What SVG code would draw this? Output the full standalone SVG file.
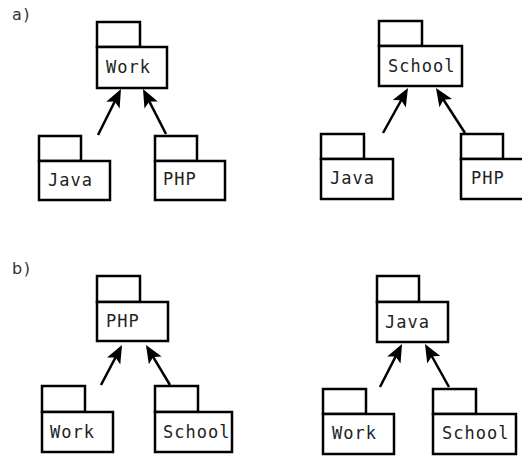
<svg xmlns="http://www.w3.org/2000/svg" width="522" height="456" viewBox="0 0 522 456">
  <style>
    .pk { fill: #fff; stroke: #000; stroke-width: 2.5; }
    .nm { font-family: "DejaVu Sans Mono", "Liberation Mono", monospace; font-size: 17px; letter-spacing: 1px; fill: #222; }
    .lbl { font-family: "DejaVu Sans", "Liberation Sans", sans-serif; font-size: 16px; letter-spacing: 1.5px; fill: #333; }
    .dep { fill: none; stroke: #000; stroke-width: 2.5; marker-end: url(#head); }
  </style>
  <defs>
    <!-- barbed dependency arrowhead, tip 8px past the path end -->
    <marker id="head" markerUnits="userSpaceOnUse" markerWidth="22" markerHeight="18" viewBox="-11 -9 22 18" refX="0" refY="0" orient="auto" overflow="visible">
      <path d="M-10,-7.5 L8,0 L-10,7.5 L-6,0 z" fill="#000"/>
    </marker>
  </defs>

  <text class="lbl" x="12" y="20">a)</text>
  <text class="lbl" x="12" y="274">b)</text>

  <!-- a) left: Java and PHP depend on Work -->
  <g id="a-work">
    <rect class="pk" x="97" y="22" width="43" height="25"/>
    <rect class="pk" x="97" y="47" width="70" height="41"/>
    <text class="nm" x="106" y="73">Work</text>
  </g>
  <g id="a-java1">
    <rect class="pk" x="39" y="136" width="42" height="25"/>
    <rect class="pk" x="39" y="161" width="71" height="39"/>
    <text class="nm" x="48" y="186">Java</text>
  </g>
  <g id="a-php1">
    <rect class="pk" x="155" y="136" width="42" height="25"/>
    <rect class="pk" x="155" y="161" width="70" height="39"/>
    <text class="nm" x="163" y="185">PHP</text>
  </g>

  <!-- a) right: Java and PHP depend on School -->
  <g id="a-school">
    <rect class="pk" x="379" y="21" width="43" height="25"/>
    <rect class="pk" x="379" y="46" width="83" height="40"/>
    <text class="nm" x="388" y="72">School</text>
  </g>
  <g id="a-java2">
    <rect class="pk" x="321" y="134" width="43" height="25"/>
    <rect class="pk" x="321" y="159" width="72" height="40"/>
    <text class="nm" x="330" y="184">Java</text>
  </g>
  <g id="a-php2">
    <rect class="pk" x="461" y="134" width="42" height="25"/>
    <rect class="pk" x="461" y="159" width="70" height="40"/>
    <text class="nm" x="471" y="184">PHP</text>
  </g>

  <!-- b) left: Work and School depend on PHP -->
  <g id="b-php">
    <rect class="pk" x="97" y="276" width="43" height="26"/>
    <rect class="pk" x="97" y="302" width="71" height="39"/>
    <text class="nm" x="106" y="327">PHP</text>
  </g>
  <g id="b-work1">
    <rect class="pk" x="42" y="386" width="43" height="26"/>
    <rect class="pk" x="42" y="412" width="71" height="40"/>
    <text class="nm" x="50" y="438">Work</text>
  </g>
  <g id="b-school1">
    <rect class="pk" x="155" y="386" width="43" height="26"/>
    <rect class="pk" x="155" y="412" width="77" height="40"/>
    <text class="nm" x="163" y="438">School</text>
  </g>

  <!-- b) right: Work and School depend on Java -->
  <g id="b-java">
    <rect class="pk" x="377" y="276" width="42" height="26"/>
    <rect class="pk" x="377" y="302" width="71" height="40"/>
    <text class="nm" x="385" y="328">Java</text>
  </g>
  <g id="b-work2">
    <rect class="pk" x="323" y="389" width="43" height="25"/>
    <rect class="pk" x="323" y="414" width="71" height="40"/>
    <text class="nm" x="332" y="439">Work</text>
  </g>
  <g id="b-school2">
    <rect class="pk" x="433" y="389" width="43" height="25"/>
    <rect class="pk" x="433" y="414" width="83" height="40"/>
    <text class="nm" x="442" y="439">School</text>
  </g>

  <g id="connectors">
    <path class="dep" d="M98,135 L117.4,96.2"/>
    <path class="dep" d="M166,134 L146.6,96.1"/>
    <path class="dep" d="M383,133 L404.1,95"/>
    <path class="dep" d="M465,133 L440.3,94.7"/>
    <path class="dep" d="M101,385 L118.3,352.1"/>
    <path class="dep" d="M170,385 L150.1,351.9"/>
    <path class="dep" d="M380,387 L398.4,351.1"/>
    <path class="dep" d="M449,387 L428.9,351"/>
  </g>
</svg>
